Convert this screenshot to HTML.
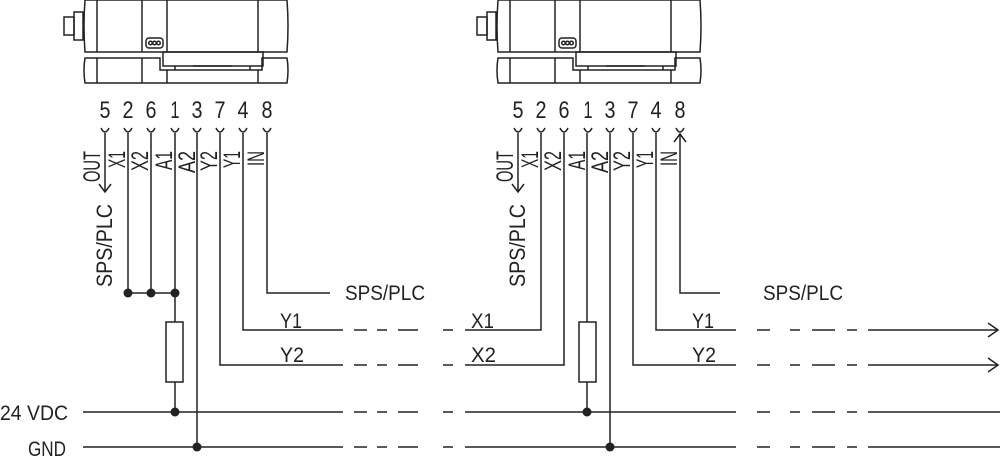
<!DOCTYPE html>
<html><head><meta charset="utf-8"><style>
html,body{margin:0;padding:0;background:#fff;}
svg{display:block;}
text{font-family:"Liberation Sans",sans-serif;fill:#222;}
</style></head><body>
<svg width="1000" height="463" viewBox="0 0 1000 463" xmlns="http://www.w3.org/2000/svg">
<defs>
<g id="dev" fill="none" stroke="#222" stroke-width="1.5">
  <path d="M85 0 H287 Q289 26 287 52 H85 Q83 26 85 0Z"/>
  <line x1="97" y1="0" x2="97" y2="52"/>
  <line x1="142" y1="0" x2="142" y2="52"/>
  <line x1="167" y1="0" x2="167" y2="52"/>
  <line x1="258" y1="0" x2="258" y2="52"/>
  <rect x="64" y="17" width="10" height="18"/>
  <rect x="74" y="12" width="9" height="28"/>
  <rect x="146" y="38" width="17" height="10" rx="3"/>
  <circle cx="150.5" cy="43" r="1.8"/><circle cx="154.5" cy="43" r="1.8"/><circle cx="158.5" cy="43" r="1.8"/>
  <path d="M85 58 H160 V70 H262 V58 H287 Q289 70 287 83 H85 Q83 70 85 58Z"/>
  <rect x="163" y="52" width="100" height="14"/>
  <line x1="97" y1="58" x2="97" y2="83"/>
  <line x1="142" y1="58" x2="142" y2="83"/>
  <line x1="167" y1="70" x2="167" y2="83"/>
  <line x1="258" y1="70" x2="258" y2="83"/>
  <line x1="175" y1="66" x2="175" y2="70"/><line x1="250" y1="66" x2="250" y2="70"/>
  <line x1="193" y1="66" x2="232" y2="66"/>
</g>
<g id="pins">
  <g font-size="24" text-anchor="middle">
    <text x="105" y="118" textLength="11" lengthAdjust="spacingAndGlyphs">5</text><text x="128" y="118" textLength="11" lengthAdjust="spacingAndGlyphs">2</text><text x="151" y="118" textLength="11" lengthAdjust="spacingAndGlyphs">6</text><text x="175" y="118" textLength="9" lengthAdjust="spacingAndGlyphs">1</text>
    <text x="197" y="118" textLength="11" lengthAdjust="spacingAndGlyphs">3</text><text x="220" y="118" textLength="11" lengthAdjust="spacingAndGlyphs">7</text><text x="243" y="118" textLength="11" lengthAdjust="spacingAndGlyphs">4</text><text x="267" y="118" textLength="11" lengthAdjust="spacingAndGlyphs">8</text>
  </g>
  <g fill="none" stroke="#222" stroke-width="1.5">
    <path d="M101 128 Q105 136 109 128"/><path d="M124 128 Q128 136 132 128"/><path d="M147 128 Q151 136 155 128"/><path d="M171 128 Q175 136 179 128"/>
    <path d="M193 128 Q197 136 201 128"/><path d="M216 128 Q220 136 224 128"/><path d="M239 128 Q243 136 247 128"/><path d="M263 128 Q267 136 271 128"/>
  </g>
  <g font-size="24" text-anchor="end">
    <text transform="translate(100,151) rotate(-90)" textLength="31" lengthAdjust="spacingAndGlyphs">OUT</text>
    <text transform="translate(125,151) rotate(-90)" textLength="17" lengthAdjust="spacingAndGlyphs">X1</text>
    <text transform="translate(148,151) rotate(-90)" textLength="20" lengthAdjust="spacingAndGlyphs">X2</text>
    <text transform="translate(172,151) rotate(-90)" textLength="19" lengthAdjust="spacingAndGlyphs">A1</text>
    <text transform="translate(195,151) rotate(-90)" textLength="22" lengthAdjust="spacingAndGlyphs">A2</text>
    <text transform="translate(217,151) rotate(-90)" textLength="20" lengthAdjust="spacingAndGlyphs">Y2</text>
    <text transform="translate(240,151) rotate(-90)" textLength="17" lengthAdjust="spacingAndGlyphs">Y1</text>
    <text transform="translate(264,151) rotate(-90)" textLength="15" lengthAdjust="spacingAndGlyphs">IN</text>
  </g>
  <text font-size="22" text-anchor="end" transform="translate(112,204) rotate(-90)" textLength="83" lengthAdjust="spacingAndGlyphs">SPS/PLC</text>
</g>
</defs>

<use href="#dev"/>
<use href="#dev" transform="translate(413,0)"/>
<use href="#pins"/>
<use href="#pins" transform="translate(413,0)"/>

<g fill="none" stroke="#222" stroke-width="1.5">
  <line x1="105" y1="133" x2="105" y2="192"/>
  <path d="M99 184 L105 192 L111 184"/>
  <line x1="128" y1="133" x2="128" y2="293"/>
  <line x1="151" y1="133" x2="151" y2="293"/>
  <line x1="175" y1="133" x2="175" y2="322"/>
  <line x1="128" y1="293" x2="175" y2="293"/>
  <rect x="166" y="322" width="17" height="60"/>
  <line x1="175" y1="382" x2="175" y2="412"/>
  <line x1="197" y1="133" x2="197" y2="448"/>
  <path d="M220 133 V365 H343"/>
  <path d="M243 133 V330 H343"/>
  <path d="M267 133 V293 H330"/>
  <line x1="518" y1="133" x2="518" y2="192"/>
  <path d="M512 184 L518 192 L524 184"/>
  <path d="M465 330 H541 V133"/>
  <path d="M465 365 H564 V133"/>
  <line x1="587" y1="133" x2="587" y2="322"/>
  <rect x="579" y="322" width="17" height="60"/>
  <line x1="587" y1="382" x2="587" y2="412"/>
  <line x1="610" y1="133" x2="610" y2="448"/>
  <path d="M633 133 V365 H736"/>
  <path d="M656 133 V330 H736"/>
  <path d="M680 134 V293 H720"/>
  <path d="M674 142 L680 134 L686 142"/>
  <line x1="868" y1="330" x2="998" y2="330"/><path d="M988 323 L998 330 L988 337"/>
  <line x1="868" y1="365" x2="998" y2="365"/><path d="M988 358 L998 365 L988 372"/>
  <line x1="83" y1="412" x2="343" y2="412"/><line x1="465" y1="412" x2="736" y2="412"/><line x1="868" y1="412" x2="1000" y2="412"/>
  <line x1="83" y1="447" x2="343" y2="447"/><line x1="465" y1="447" x2="736" y2="447"/><line x1="868" y1="447" x2="1000" y2="447"/>
  <g id="dl">
    <line x1="354" y1="330" x2="367" y2="330"/><line x1="377" y1="330" x2="387" y2="330"/><line x1="398" y1="330" x2="418" y2="330"/><line x1="443" y1="330" x2="453" y2="330"/>
  </g>
  <use href="#dl" transform="translate(0,35)"/>
  <use href="#dl" transform="translate(0,82)"/>
  <use href="#dl" transform="translate(0,117)"/>
  <g id="dr">
    <line x1="757" y1="330" x2="770" y2="330"/><line x1="790" y1="330" x2="800" y2="330"/><line x1="812" y1="330" x2="835" y2="330"/><line x1="847" y1="330" x2="857" y2="330"/>
  </g>
  <use href="#dr" transform="translate(0,35)"/>
  <use href="#dr" transform="translate(0,82)"/>
  <use href="#dr" transform="translate(0,117)"/>
</g>
<g fill="#222">
  <circle cx="128" cy="293" r="4.5"/><circle cx="151" cy="293" r="4.5"/><circle cx="175" cy="293" r="4.5"/>
  <circle cx="175" cy="412" r="4.5"/><circle cx="197" cy="447" r="4.5"/>
  <circle cx="587" cy="412" r="4.5"/><circle cx="610" cy="447" r="4.5"/>
</g>
<g font-size="21">
  <text x="345" y="300" textLength="80" lengthAdjust="spacingAndGlyphs">SPS/PLC</text>
  <text x="763" y="300" textLength="80" lengthAdjust="spacingAndGlyphs">SPS/PLC</text>
  <text x="280" y="328" textLength="22" lengthAdjust="spacingAndGlyphs">Y1</text><text x="280" y="362" textLength="24" lengthAdjust="spacingAndGlyphs">Y2</text>
  <text x="471" y="328" textLength="23" lengthAdjust="spacingAndGlyphs">X1</text><text x="471" y="362" textLength="25" lengthAdjust="spacingAndGlyphs">X2</text>
  <text x="692" y="328" textLength="22" lengthAdjust="spacingAndGlyphs">Y1</text><text x="692" y="362" textLength="24" lengthAdjust="spacingAndGlyphs">Y2</text>
  <text x="0" y="420" textLength="68" lengthAdjust="spacingAndGlyphs">24  VDC</text>
  <text x="28" y="456" textLength="38" lengthAdjust="spacingAndGlyphs">GND</text>
</g>
</svg>
</body></html>
